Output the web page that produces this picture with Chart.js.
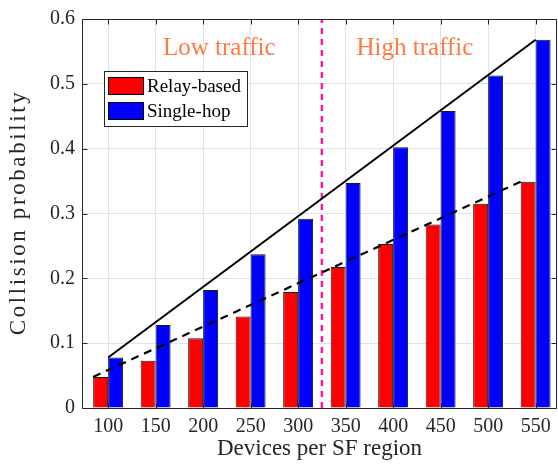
<!DOCTYPE html>
<html>
<head>
<meta charset="utf-8">
<script src="https://cdn.jsdelivr.net/npm/chart.js@4/dist/chart.umd.min.js"></script>
<style>
  html, body { margin: 0; padding: 0; background: #ffffff; }
  #wrap { width: 558px; height: 465px; position: relative; }
</style>
</head>
<body>
<div id="wrap"><canvas id="chart"></canvas></div>
<script>
// Devices per SF region (x categories)
const devices = [100, 150, 200, 250, 300, 350, 400, 450, 500, 550];
// Collision probability per scheme
const relayBased = [0.048, 0.073, 0.1075, 0.141, 0.179, 0.2175, 0.253, 0.283, 0.315, 0.349];
const singleHop  = [0.078, 0.128, 0.182, 0.237, 0.292, 0.347, 0.402, 0.458, 0.513, 0.568];
// y-axis tick values
const yTickValues = [0, 0.1, 0.2, 0.3, 0.4, 0.5, 0.6];
// Trend lines (start / end points)
const singleHopTrendX = [100, 550];
const singleHopTrendY = [0.078, 0.568];
const relayTrendX = [84.2, 534.2];
const relayTrendY = [0.048, 0.349];
// Boundary between the traffic regimes
const trafficBoundaryX = 325;
const regionLabels = ['Low traffic', 'High traffic'];
const yTitle = 'Collision probability';

const SERIF = '"Liberation Serif", "Times New Roman", serif';
const AXIS_COLOR = '#262626';

const pts = (xs, ys) => xs.map((x, i) => ({ x: x, y: ys[i] }));

// Box, inward ticks, region labels, y title and legend
const decorations = {
  id: 'decorations',
  afterDraw(chart) {
    const ctx = chart.ctx;
    const a = chart.chartArea;
    const xs = chart.scales.x, ys = chart.scales.y;
    ctx.save();
    ctx.strokeStyle = AXIS_COLOR;
    ctx.lineWidth = 1;
    // axes box
    const L = Math.round(a.left) + 0.5, T = Math.round(a.top) + 0.5;
    const R = Math.round(a.right) - 0.5, B = Math.round(a.bottom) + 0.5;
    ctx.beginPath();
    ctx.rect(L, T, R - L, B - T);
    ctx.stroke();
    // inward ticks
    const tl = 5;
    ctx.beginPath();
    devices.forEach(v => {
      const px = Math.round(xs.getPixelForValue(v)) + 0.5;
      ctx.moveTo(px, B); ctx.lineTo(px, B - tl);
      ctx.moveTo(px, T); ctx.lineTo(px, T + tl);
    });
    yTickValues.forEach(v => {
      const py = Math.round(ys.getPixelForValue(v)) + 0.5;
      ctx.moveTo(L, py); ctx.lineTo(L + tl, py);
      ctx.moveTo(R, py); ctx.lineTo(R - tl, py);
    });
    ctx.stroke();

    // region labels
    ctx.fillStyle = '#FF7A45';
    ctx.font = '25px ' + SERIF;
    ctx.textAlign = 'center';
    ctx.textBaseline = 'middle';
    ctx.fillText(regionLabels[0], xs.getPixelForValue(217), ys.getPixelForValue(0.555));
    ctx.fillText(regionLabels[1], xs.getPixelForValue(423), ys.getPixelForValue(0.555));

    // y-axis title (rotated, slightly tracked)
    ctx.save();
    ctx.translate(25, (a.top + a.bottom) / 2 - 1);
    ctx.rotate(-Math.PI / 2);
    ctx.font = '23px ' + SERIF;
    ctx.fillStyle = AXIS_COLOR;
    ctx.textBaseline = 'alphabetic';
    ctx.textAlign = 'left';
    if ('letterSpacing' in ctx) ctx.letterSpacing = '2.6px';
    const tw = ctx.measureText(yTitle).width;
    ctx.fillText(yTitle, -tw / 2, 0);
    ctx.restore();

    // legend
    const bars = chart.data.datasets.filter(d => d.type !== 'line');
    const lx = 104, ly = 71, lw = 143, lh = 55;
    ctx.fillStyle = '#ffffff';
    ctx.fillRect(lx, ly, lw, lh);
    ctx.strokeStyle = AXIS_COLOR;
    ctx.strokeRect(lx + 0.5, ly + 0.5, lw, lh);
    ctx.font = '19px ' + SERIF;
    ctx.textAlign = 'left';
    ctx.textBaseline = 'middle';
    bars.forEach((d, i) => {
      const sy = ly + 6 + i * 25;
      ctx.fillStyle = d.backgroundColor;
      ctx.fillRect(lx + 4, sy, 36, 18);
      ctx.strokeStyle = '#000000';
      ctx.strokeRect(lx + 4.5, sy + 0.5, 35, 17);
      ctx.fillStyle = '#000000';
      ctx.fillText(d.label, lx + 43, sy + 10);
    });
    ctx.restore();
  }
};

new Chart(document.getElementById('chart'), {
  type: 'bar',
  data: {
    datasets: [
      {
        label: 'Relay-based',
        data: pts(devices, relayBased),
        backgroundColor: '#FF0000',
        borderColor: '#1a1a1a',
        borderWidth: 1,
        order: 3
      },
      {
        label: 'Single-hop',
        data: pts(devices, singleHop),
        backgroundColor: '#0000FF',
        borderColor: '#1a1a1a',
        borderWidth: 1,
        order: 3
      },
      {
        type: 'line',
        label: 'Single-hop trend',
        data: pts(singleHopTrendX, singleHopTrendY),
        borderColor: '#000000',
        borderWidth: 2,
        pointRadius: 0,
        fill: false,
        order: 1
      },
      {
        type: 'line',
        label: 'Relay-based trend',
        data: pts(relayTrendX, relayTrendY),
        borderColor: '#000000',
        borderWidth: 2.2,
        borderDash: [8, 6],
        pointRadius: 0,
        fill: false,
        order: 1
      },
      {
        type: 'line',
        label: 'Traffic boundary',
        data: [{ x: trafficBoundaryX, y: 0 }, { x: trafficBoundaryX, y: 0.6 }],
        borderColor: '#FF1AA0',
        borderWidth: 2.5,
        borderDash: [6, 5],
        pointRadius: 0,
        fill: false,
        order: 2
      }
    ]
  },
  options: {
    responsive: true,
    maintainAspectRatio: false,
    animation: false,
    layout: { padding: { left: 0, right: 1, top: 10, bottom: 0 } },
    plugins: { legend: { display: false }, tooltip: { enabled: false } },
    datasets: { bar: { categoryPercentage: 0.63, barPercentage: 1.0 } },
    scales: {
      x: {
        type: 'linear',
        offset: false,
        min: 72.5,
        max: 572.5,
        afterBuildTicks: s => { s.ticks = devices.map(v => ({ value: v })); },
        afterFit: s => { s.height = 57; },
        ticks: {
          callback: v => String(v),
          color: AXIS_COLOR,
          font: { family: SERIF, size: 20 },
          padding: 7,
          maxRotation: 0,
          autoSkip: false
        },
        grid: { color: '#e3e3e3', drawTicks: false, offset: false },
        border: { display: false },
        title: {
          display: true,
          text: 'Devices per SF region',
          color: AXIS_COLOR,
          font: { family: SERIF, size: 23 },
          padding: { top: 0, bottom: 2 }
        }
      },
      y: {
        type: 'linear',
        min: 0,
        max: 0.6,
        afterBuildTicks: s => { s.ticks = yTickValues.map(v => ({ value: v })); },
        afterFit: s => { s.width = 82; },
        ticks: {
          callback: v => (v === 0 ? '0' : v.toFixed(1)),
          color: AXIS_COLOR,
          font: { family: SERIF, size: 20 },
          padding: 7
        },
        grid: { color: '#e3e3e3', drawTicks: false },
        border: { display: false },
        title: { display: false }
      }
    }
  },
  plugins: [decorations]
});
</script>
</body>
</html>
